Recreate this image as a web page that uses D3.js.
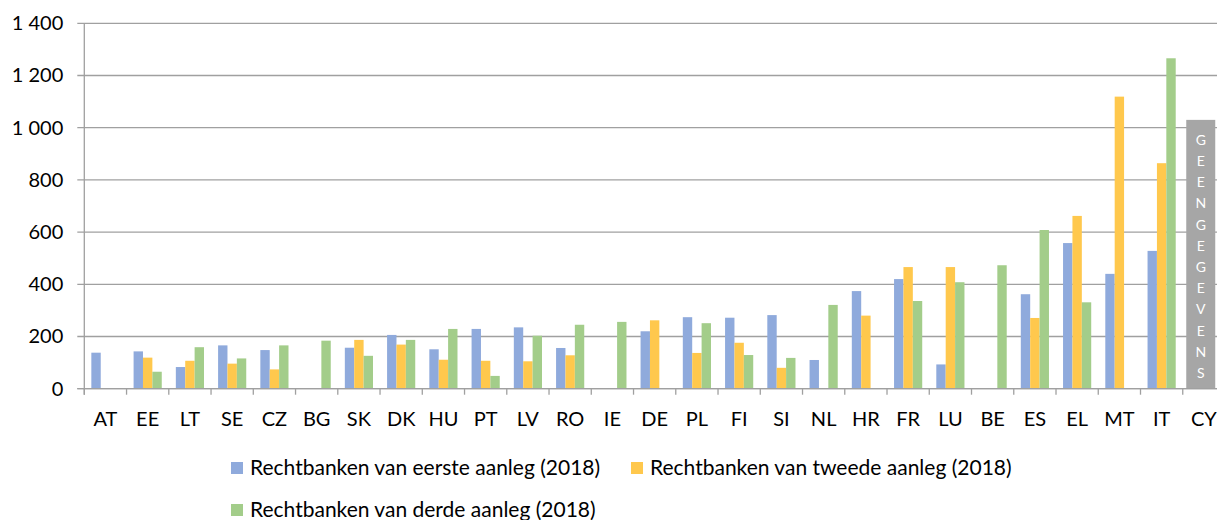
<!DOCTYPE html>
<html>
<head>
<meta charset="utf-8">
<script src="https://cdn.jsdelivr.net/npm/d3@7"></script>
<style>
  body { margin: 0; background: #fff; overflow: hidden; }
  text { font-family: Lato, "Open Sans", sans-serif; fill: #000; }
</style>
</head>
<body>
<svg></svg>
<script>
///////////////////////////////////////////
// Data
var countries = ["AT","EE","LT","SE","CZ","BG","SK","DK","HU","PT","LV","RO","IE","DE",
                 "PL","FI","SI","NL","HR","FR","LU","BE","ES","EL","MT","IT","CY"];
// null = no bar
var eerste = [138,143,83,166,148,null,157,206,151,229,235,156,null,220,
              274,272,282,110,374,420,93,null,362,558,440,528,null];
var tweede = [null,119,107,96,74,null,187,169,111,107,105,128,null,262,
              137,176,80,null,280,466,466,null,271,662,1119,864,null];
var derde  = [null,65,159,116,166,184,126,187,229,49,203,245,256,null,
              251,129,118,321,null,336,408,473,608,331,null,1266,null];
var seriesNames = ["Rechtbanken van eerste aanleg (2018)",
                   "Rechtbanken van tweede aanleg (2018)",
                   "Rechtbanken van derde aanleg (2018)"];
var seriesColors = ["#8faadc", "#ffc84d", "#a3cd8a"];
var yTicks = [0,200,400,600,800,1000,1200,1400];
var noDataCountry = "CY", noDataValue = 1030, noDataLabel = "GEENGEGEVENS";

///////////////////////////////////////////
// Layout
var svgWidth = 1217, svgHeight = 520;
var margin = {top: 23.3, left: 84.3, right: -8, bottom: 131.3},
    width = svgWidth - margin.left - margin.right,
    height = svgHeight - margin.top - margin.bottom;

var svg = d3.select("svg").attr("width", svgWidth).attr("height", svgHeight);
var g = svg.append("g").attr("transform", "translate(" + [margin.left, margin.top] + ")");

var x = d3.scaleBand().domain(countries).range([0, width]).paddingInner(0).paddingOuter(0);
var inner = d3.scaleBand().domain([0,1,2]).range([0, x.bandwidth()]).paddingOuter(0.75).paddingInner(0);
var y = d3.scaleLinear().domain([0, 1400]).range([height, 0]);

var fmt = function(d){ return d3.format(",")(d).replace(/,/g, " "); };

// gridlines
g.append("g").selectAll("line").data(yTicks).join("line")
  .attr("x1", -7).attr("x2", width)
  .attr("y1", d => y(d)).attr("y2", d => y(d))
  .attr("stroke", "#a0a0a0").attr("stroke-width", 1.3);

// y labels
g.append("g").selectAll("text").data(yTicks).join("text")
  .attr("x", -21).attr("y", d => y(d)).attr("dy", "0.35em")
  .attr("text-anchor", "end").style("font-size", "20px")
  .text(fmt);

// y axis line
g.append("line").attr("x1", 0).attr("x2", 0).attr("y1", 0).attr("y2", height + 6)
  .attr("stroke", "#a0a0a0").attr("stroke-width", 1.3);

// x ticks
g.append("g").selectAll("line").data(countries).join("line")
  .attr("x1", d => x(d)).attr("x2", d => x(d))
  .attr("y1", height).attr("y2", height + 6)
  .attr("stroke", "#a0a0a0").attr("stroke-width", 1.3);

// x labels
g.append("g").selectAll("text").data(countries).join("text")
  .attr("x", d => x(d) + x.bandwidth()/2).attr("y", height + 37)
  .attr("text-anchor", "middle").style("font-size", "20px")
  .text(d => d);

// bars
var series = [eerste, tweede, derde];
series.forEach(function(vals, s) {
  g.append("g").selectAll("rect")
    .data(countries.map((c, i) => ({c: c, v: vals[i]})).filter(d => d.v != null))
    .join("rect")
    .attr("x", d => x(d.c) + inner(s))
    .attr("width", inner.bandwidth())
    .attr("y", d => y(d.v))
    .attr("height", d => y(0) - y(d.v))
    .attr("fill", seriesColors[s]);
});

// no data box
var nx = x(noDataCountry) + 3.5, nw = 29;
g.append("rect").attr("x", nx).attr("width", nw)
  .attr("y", y(noDataValue)).attr("height", y(0) - y(noDataValue))
  .attr("fill", "#a6a6a6");
g.append("g").selectAll("text").data(noDataLabel.split("")).join("text")
  .attr("x", nx + nw/2).attr("y", (d, i) => 140 - margin.top + i * 21.2)
  .attr("dy", "0.35em").attr("text-anchor", "middle")
  .style("font-size", "14px").style("fill", "#fff")
  .text(d => d);

// re-draw base line on top
g.append("line").attr("x1", -7).attr("x2", width).attr("y1", y(0)).attr("y2", y(0))
  .attr("stroke", "#a0a0a0").attr("stroke-width", 1.3);

///////////////////////////////////////////
// Legend
var legendPos = [[231, 468], [631, 468], [231, 510]];
var legend = svg.append("g").selectAll("g").data(seriesNames).join("g")
  .attr("transform", (d, i) => "translate(" + legendPos[i] + ")");
legend.append("rect").attr("x", 0).attr("y", -6).attr("width", 12).attr("height", 12)
  .attr("fill", (d, i) => seriesColors[i]);
legend.append("text").attr("x", 19).attr("y", 0).attr("dy", "0.35em")
  .style("font-size", "21px").text(d => d);
</script>
</body>
</html>
